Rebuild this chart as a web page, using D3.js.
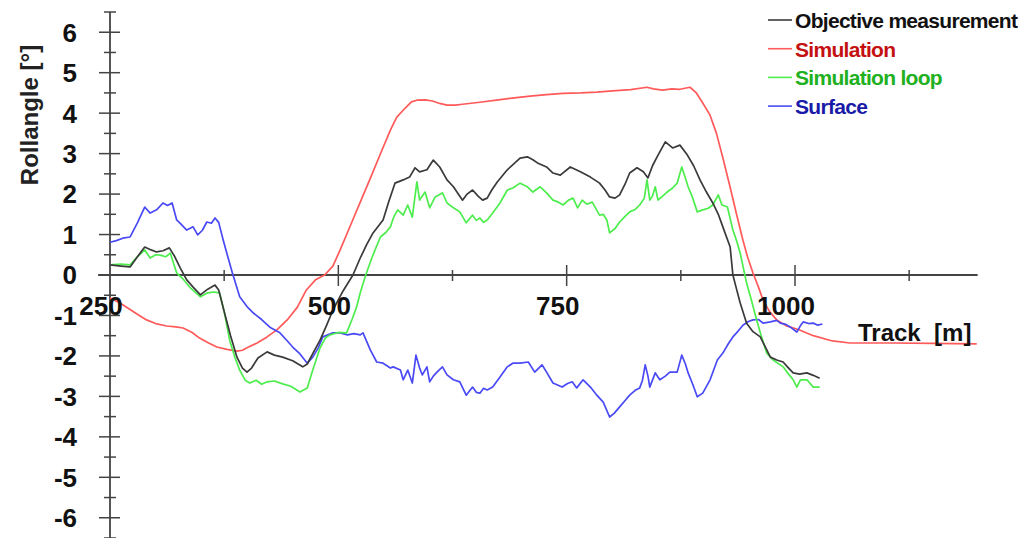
<!DOCTYPE html>
<html>
<head>
<meta charset="utf-8">
<script src="https://cdn.jsdelivr.net/npm/d3@7"></script>
<style>
  html, body { margin: 0; padding: 0; background: #fff; }
  svg { display: block; }
  text { font-family: "Liberation Sans", Arial, sans-serif; }
</style>
</head>
<body>
<svg id="chart" width="1031" height="538"></svg>
<script>
// ---------- data ----------
const seriesNames = ["Objective measurement", "Simulation", "Simulation loop", "Surface"];

const objective = [[250,0.25],[262,0.22],[272,0.2],[280,0.45],[288,0.69],[295,0.62],[301,0.57],[308,0.6],[315,0.67],[321,0.45],[327,0.17],[334,-0.12],[341,-0.3],[349,-0.49],[357,-0.35],[365,-0.25],[369,-0.37],[375,-0.9],[382,-1.5],[389,-2.03],[395,-2.3],[400,-2.4],[405,-2.3],[412,-2.05],[422,-1.9],[430,-1.98],[439,-2.03],[450,-2.12],[461,-2.27],[466,-2.2],[473,-1.9],[480,-1.61],[487,-1.25],[494,-0.87],[505,-0.4],[516,0.0],[524,0.42],[531,0.75],[538,1.04],[549,1.36],[555,1.8],[562,2.27],[571,2.35],[578,2.42],[584,2.65],[589,2.55],[597,2.6],[604,2.84],[611,2.67],[619,2.35],[626,2.18],[636,1.85],[641,2.0],[647,2.1],[653,1.95],[658,1.85],[663,1.9],[668,2.1],[674,2.3],[685,2.6],[699,2.89],[707,2.92],[713,2.85],[718,2.77],[728,2.67],[735,2.52],[743,2.47],[754,2.67],[765,2.55],[776,2.42],[786,2.27],[792,2.1],[797,1.93],[803,1.9],[808,1.98],[814,2.25],[819,2.52],[827,2.65],[834,2.55],[839,2.4],[844,2.7],[849,2.92],[858,3.29],[866,3.14],[874,3.21],[882,2.97],[889,2.7],[896,2.35],[903,2.05],[910,1.78],[916,1.5],[921,1.19],[929,0.69],[932,0.0],[936,-0.35],[940,-0.69],[947,-1.19],[954,-1.4],[962,-1.53],[968,-1.8],[973,-2.03],[980,-2.1],[987,-2.15],[993,-2.3],[998,-2.42],[1005,-2.45],[1013,-2.42],[1020,-2.48],[1027,-2.55]];

const simulation = [[250,-0.57],[260,-0.68],[269,-0.81],[280,-0.97],[290,-1.11],[300,-1.2],[312,-1.26],[322,-1.28],[330,-1.31],[340,-1.42],[348,-1.56],[358,-1.68],[367,-1.78],[378,-1.84],[389,-1.88],[395,-1.86],[400,-1.8],[411,-1.68],[422,-1.53],[433,-1.35],[444,-1.11],[455,-0.8],[465,-0.37],[475,-0.12],[485,0.0],[494,0.22],[502,0.62],[513,1.21],[524,1.8],[535,2.39],[546,2.99],[557,3.58],[564,3.9],[573,4.12],[580,4.28],[586,4.32],[595,4.33],[603,4.3],[611,4.24],[619,4.2],[628,4.2],[636,4.22],[655,4.27],[673,4.32],[690,4.37],[710,4.42],[728,4.46],[746,4.49],[765,4.5],[783,4.52],[800,4.55],[820,4.58],[838,4.64],[845,4.6],[855,4.57],[865,4.6],[874,4.59],[885,4.64],[892,4.5],[899,4.25],[907,3.95],[914,3.5],[921,2.9],[929,2.17],[936,1.5],[943,0.86],[948,0.45],[954,0.05],[960,-0.3],[965,-0.62],[972,-0.9],[980,-1.11],[990,-1.25],[1005,-1.36],[1020,-1.5],[1041,-1.63],[1060,-1.68],[1107,-1.68],[1150,-1.69],[1199,-1.7]];

const simulationLoop = [[250,0.25],[262,0.27],[272,0.25],[280,0.45],[288,0.62],[294,0.42],[300,0.5],[305,0.49],[311,0.45],[316,0.54],[323,0.05],[330,-0.1],[338,-0.32],[349,-0.54],[356,-0.45],[363,-0.42],[370,-0.44],[375,-0.9],[381,-1.61],[387,-2.05],[392,-2.35],[398,-2.6],[403,-2.67],[410,-2.6],[416,-2.7],[422,-2.64],[430,-2.62],[439,-2.69],[448,-2.75],[458,-2.89],[466,-2.79],[472,-2.35],[480,-1.8],[486,-1.55],[491,-1.48],[500,-1.42],[509,-1.43],[515,-1.1],[520,-0.79],[524,-0.44],[530,0.0],[537,0.44],[546,0.94],[552,1.05],[557,1.19],[561,1.45],[565,1.61],[571,1.48],[576,1.73],[581,1.43],[586,2.3],[589,1.85],[592,1.95],[595,2.05],[600,1.66],[606,1.93],[610,1.98],[614,2.03],[619,1.78],[626,1.66],[633,1.56],[640,1.29],[647,1.48],[651,1.35],[655,1.41],[659,1.3],[663,1.36],[669,1.53],[677,1.78],[685,2.1],[691,2.15],[699,2.27],[707,2.18],[713,2.05],[721,2.18],[728,2.03],[735,1.85],[741,1.8],[746,1.73],[752,1.85],[757,1.9],[762,1.66],[767,1.85],[772,1.75],[778,1.8],[786,1.48],[790,1.5],[794,1.36],[797,1.04],[803,1.15],[808,1.31],[814,1.45],[819,1.56],[825,1.62],[830,1.73],[835,1.9],[838,2.35],[841,1.85],[844,1.95],[847,2.18],[850,1.85],[855,1.95],[860,2.05],[866,2.15],[871,2.27],[876,2.67],[880,2.4],[883,2.18],[888,1.9],[893,1.56],[899,1.61],[905,1.65],[910,1.73],[916,1.98],[920,1.73],[926,1.68],[932,1.11],[936,0.85],[940,0.54],[947,-0.2],[952,-0.6],[958,-1.11],[963,-1.5],[969,-1.93],[976,-2.1],[987,-2.27],[993,-2.45],[998,-2.59],[1002,-2.77],[1006,-2.59],[1013,-2.59],[1020,-2.77],[1027,-2.77]];

const surface = [[250,0.81],[257,0.85],[264,0.91],[272,0.94],[280,1.29],[288,1.68],[294,1.53],[301,1.61],[308,1.78],[313,1.72],[318,1.78],[323,1.36],[328,1.25],[334,1.11],[341,1.19],[346,0.99],[351,1.1],[356,1.31],[361,1.28],[365,1.41],[369,1.3],[374,0.86],[379,0.45],[384,0.05],[392,-0.54],[400,-0.78],[407,-0.94],[416,-1.1],[425,-1.29],[436,-1.43],[443,-1.6],[450,-1.78],[458,-1.95],[466,-2.18],[472,-2.03],[478,-1.8],[483,-1.53],[494,-1.43],[502,-1.43],[510,-1.48],[517,-1.45],[524,-1.48],[527,-1.43],[535,-1.85],[542,-2.15],[549,-2.18],[557,-2.3],[560,-2.27],[568,-2.35],[571,-2.59],[576,-2.35],[581,-2.67],[585,-1.98],[589,-2.3],[592,-2.47],[597,-2.27],[600,-2.64],[604,-2.5],[608,-2.4],[614,-2.27],[619,-2.47],[626,-2.59],[633,-2.64],[640,-2.97],[647,-2.77],[651,-2.9],[655,-2.92],[659,-2.8],[663,-2.84],[669,-2.77],[677,-2.52],[685,-2.27],[691,-2.18],[699,-2.18],[708,-2.15],[715,-2.4],[723,-2.22],[728,-2.4],[735,-2.67],[740,-2.72],[745,-2.77],[751,-2.68],[756,-2.64],[761,-2.79],[768,-2.59],[776,-2.77],[783,-2.97],[790,-3.14],[797,-3.51],[802,-3.42],[808,-3.26],[814,-3.1],[819,-2.97],[825,-2.85],[830,-2.79],[833,-2.6],[836,-2.22],[839,-2.5],[841,-2.77],[847,-2.42],[852,-2.59],[858,-2.5],[863,-2.4],[871,-2.4],[876,-1.98],[880,-2.2],[883,-2.42],[888,-2.7],[893,-3.01],[899,-2.92],[907,-2.59],[915,-2.1],[921,-1.93],[927,-1.7],[932,-1.53],[938,-1.38],[943,-1.24],[949,-1.15],[954,-1.11],[960,-1.1],[965,-1.19],[973,-1.16],[980,-1.12],[984,-1.19],[990,-1.22],[995,-1.29],[1002,-1.41],[1006,-1.25],[1009,-1.16],[1015,-1.2],[1020,-1.19],[1025,-1.24],[1030,-1.21]];

const xMajorTicks = [250, 500, 750, 1000];
const xMinorTicks = [375, 625, 875, 1125];
const yMajorTicks = [-6, -5, -4, -3, -2, -1, 0, 1, 2, 3, 4, 5, 6];
const yMinorTicks = [-6.5, -5.5, -4.5, -3.5, -2.5, -1.5, -0.5, 0.5, 1.5, 2.5, 3.5, 4.5, 5.5, 6.5];
const xDomainExtent = [237, 1200];
const yDomainExtent = [-6.5, 6.5];
const yTitle = "Rollangle [°]";
const xTitle = "Track  [m]";

// ---------- styles ----------
const lineColors = ["#3a3a3a", "#ff5a5a", "#4ded4d", "#4a4af5"];
const textColors = ["#111111", "#c41010", "#20b020", "#1a1aa8"];
const axisColor = "#444";

// ---------- scales ----------
const svg = d3.select("#chart");
const x = d3.scaleLinear().domain([250, 1000]).range([110, 795]);
const y = d3.scaleLinear().domain(yDomainExtent).range([538, 12]);

// ---------- axes ----------
const gx = svg.append("g").attr("transform", `translate(0,${y(0)})`);
gx.append("line")
  .attr("x1", x(xDomainExtent[0])).attr("x2", x(xDomainExtent[1]))
  .attr("y1", 0).attr("y2", 0)
  .attr("stroke", axisColor).attr("stroke-width", 1.8);
gx.selectAll(".xmaj").data(xMajorTicks.filter(d => d !== 250)).join("line")
  .attr("x1", d => x(d)).attr("x2", d => x(d))
  .attr("y1", -10).attr("y2", 11)
  .attr("stroke", axisColor).attr("stroke-width", 1.5);
gx.selectAll(".xmin").data(xMinorTicks).join("line")
  .attr("x1", d => x(d)).attr("x2", d => x(d))
  .attr("y1", -5).attr("y2", 6)
  .attr("stroke", axisColor).attr("stroke-width", 1.5);

const gy = svg.append("g").attr("transform", `translate(${x(250)},0)`);
gy.append("line")
  .attr("x1", 0).attr("x2", 0)
  .attr("y1", y(yDomainExtent[1])).attr("y2", y(yDomainExtent[0]))
  .attr("stroke", axisColor).attr("stroke-width", 1.8);
gy.selectAll(".ymaj").data(yMajorTicks).join("line")
  .attr("x1", -11).attr("x2", 10)
  .attr("y1", d => y(d)).attr("y2", d => y(d))
  .attr("stroke", axisColor).attr("stroke-width", 1.5);
gy.selectAll(".ymin").data(yMinorTicks).join("line")
  .attr("x1", -6).attr("x2", 6)
  .attr("y1", d => y(d)).attr("y2", d => y(d))
  .attr("stroke", axisColor).attr("stroke-width", 1.5);

// ---------- series ----------
const line = d3.line().x(d => x(d[0])).y(d => y(d[1]));
const allSeries = [simulation, surface, simulationLoop, objective];
const seriesColorIdx = [1, 3, 2, 0];
allSeries.forEach((s, i) => {
  svg.append("path")
    .datum(s)
    .attr("d", line)
    .attr("fill", "none")
    .attr("stroke", lineColors[seriesColorIdx[i]])
    .attr("stroke-width", 1.7)
    .attr("stroke-linejoin", "round");
});

// ---------- tick labels ----------
svg.append("g").selectAll("text").data(yMajorTicks).join("text")
  .attr("x", 77).attr("y", d => y(d))
  .attr("dy", "0.36em")
  .attr("text-anchor", "end")
  .attr("font-size", 26).attr("font-weight", "bold")
  .attr("fill", "#111")
  .text(d => d);

svg.append("g").selectAll("text").data(xMajorTicks).join("text")
  .attr("x", d => x(d) - 9).attr("y", 315)
  .attr("text-anchor", "middle")
  .attr("font-size", 26).attr("font-weight", "bold")
  .attr("fill", "#111")
  .text(d => d);

// ---------- titles ----------
svg.append("text")
  .attr("transform", `translate(38,115) rotate(-90)`)
  .attr("text-anchor", "middle")
  .attr("font-size", 24).attr("font-weight", "bold")
  .attr("fill", "#222")
  .text(yTitle);

svg.append("text")
  .attr("x", 858).attr("y", 341)
  .attr("font-size", 24).attr("font-weight", "bold")
  .attr("fill", "#111")
  .style("white-space", "pre")
  .text(xTitle);

// ---------- legend ----------
const legend = svg.append("g");
seriesNames.forEach((name, i) => {
  const base = 28 + i * 28.7;
  legend.append("line")
    .attr("x1", 768).attr("x2", 792)
    .attr("y1", base - 8).attr("y2", base - 8)
    .attr("stroke", lineColors[i]).attr("stroke-width", 1.6);
  legend.append("text")
    .attr("x", 795).attr("y", base)
    .attr("font-size", 21).attr("font-weight", "bold")
    .attr("letter-spacing", "-0.7px")
    .attr("fill", textColors[i])
    .text(name);
});
</script>
</body>
</html>
